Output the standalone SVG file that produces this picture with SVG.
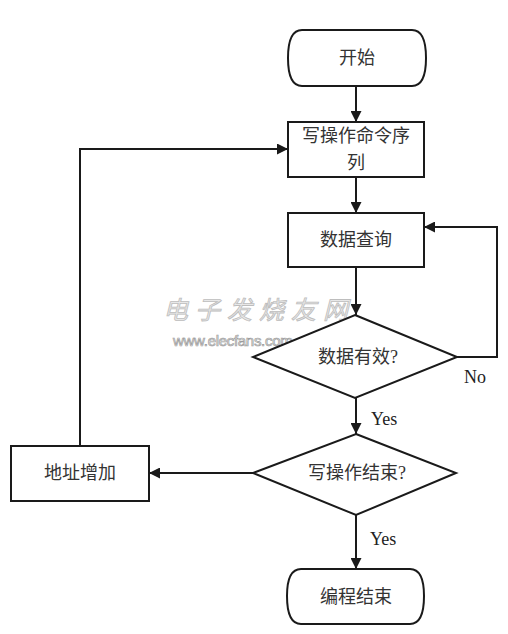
<svg xmlns="http://www.w3.org/2000/svg" width="508" height="634" viewBox="0 0 508 634">
<style>
.shape{fill:#fff;stroke:#1a1a1a;stroke-width:2}
.line{fill:none;stroke:#1a1a1a;stroke-width:2}
.cn{font-family:"Liberation Serif","Noto Sans CJK SC",serif;font-size:18px;fill:#333;text-anchor:middle}
.lbl{font-family:"Liberation Serif","Noto Sans CJK SC",serif;font-size:18px;fill:#222}
.wm{font-family:"Noto Sans CJK SC",sans-serif;font-size:25px;fill:#e8e8e8;stroke:#bdbdbd;stroke-width:0.8;font-style:italic;letter-spacing:7px}
.wm2{font-family:"Liberation Sans",sans-serif;font-size:15px;fill:#f2f2f2;stroke:#9a9a9a;stroke-width:0.7;letter-spacing:-0.3px}
</style>
<defs>
<marker id="arr" viewBox="0 0 10 10" refX="10" refY="5" markerWidth="11" markerHeight="11" markerUnits="userSpaceOnUse" orient="auto">
<path d="M0,0 L10,5 L0,10 Z" fill="#1a1a1a"/>
</marker>
</defs>
<rect width="508" height="634" fill="#fff"/>
<g id="connectors">
<line class="line" x1="356" y1="86" x2="356" y2="122" marker-end="url(#arr)"/>
<line class="line" x1="356" y1="177" x2="356" y2="213" marker-end="url(#arr)"/>
<line class="line" x1="356" y1="267" x2="356" y2="315" marker-end="url(#arr)"/>
<polyline class="line" points="457,357 497,357 497,227 424,227" marker-end="url(#arr)"/>
<line class="line" x1="356" y1="398" x2="356" y2="434" marker-end="url(#arr)"/>
<line class="line" x1="254" y1="473" x2="149" y2="473" marker-end="url(#arr)"/>
<polyline class="line" points="80,446 80,149 288,149" marker-end="url(#arr)"/>
<line class="line" x1="356" y1="515" x2="356" y2="569" marker-end="url(#arr)"/>
<text class="lbl" x="464" y="383">No</text>
<text class="lbl" x="371" y="425">Yes</text>
<text class="lbl" x="370" y="545">Yes</text>
</g>
<g id="start">
<path class="shape" d="M302,30 H412 Q426,30 426,58 Q426,86 412,86 H302 Q288,86 288,58 Q288,30 302,30 Z"/>
<text class="cn" x="357" y="64">开始</text>
</g>
<g id="cmdseq">
<rect class="shape" x="288" y="122" width="136" height="55"/>
<text class="cn" x="356" y="142">写操作命令序</text>
<text class="cn" x="356" y="169">列</text>
</g>
<g id="query">
<rect class="shape" x="288" y="213" width="136" height="54"/>
<text class="cn" x="356" y="246">数据查询</text>
</g>
<g id="watermark">
<text class="wm" x="163" y="319">电子发烧友网</text>
<text class="wm2" x="173" y="346">www.elecfans.com</text>
</g>
<g id="valid">
<polygon class="shape" points="355,315 457,357 355,398 253,357"/>
<text class="cn" x="358" y="363">数据有效?</text>
</g>
<g id="writeend">
<polygon class="shape" points="356,434 456,473 356,515 253,473"/>
<text class="cn" x="357" y="479">写操作结束?</text>
</g>
<g id="addrinc">
<rect class="shape" x="11" y="446" width="138" height="55"/>
<text class="cn" x="80" y="479">地址增加</text>
</g>
<g id="end">
<path class="shape" d="M301,569 H410 Q424,569 424,596 Q424,624 410,624 H301 Q287,624 287,596 Q287,569 301,569 Z"/>
<text class="cn" x="356" y="603">编程结束</text>
</g>
</svg>
